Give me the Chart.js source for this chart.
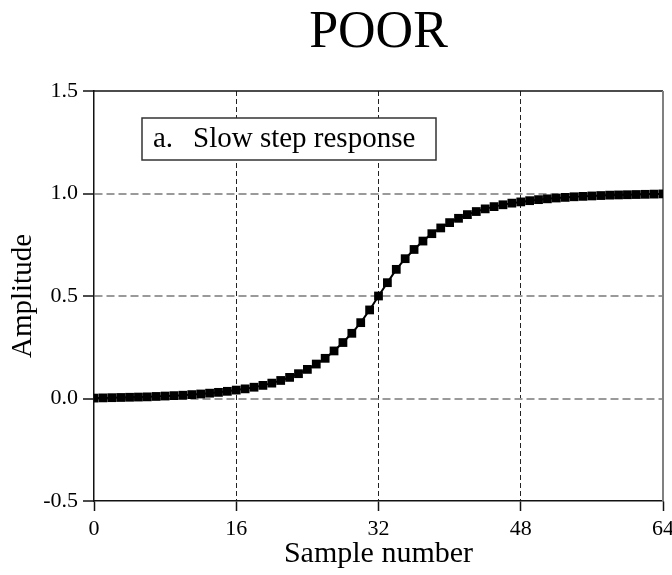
<!DOCTYPE html>
<html>
<head>
<meta charset="utf-8">
<title>POOR - Slow step response</title>
<script src="https://cdn.jsdelivr.net/npm/chart.js@4/dist/chart.umd.min.js"></script>
<style>
  html, body { margin: 0; padding: 0; background: #fff; }
  canvas { display: block; }
</style>
</head>
<body>
<canvas id="chart" width="672" height="575"></canvas>
<script>
// ---------- data ----------
const sampleNumbers = [
  0, 1, 2, 3, 4, 5, 6, 7, 8, 9, 10, 11, 12, 13, 14, 15,
  16, 17, 18, 19, 20, 21, 22, 23, 24, 25, 26, 27, 28, 29, 30, 31,
  32, 33, 34, 35, 36, 37, 38, 39, 40, 41, 42, 43, 44, 45, 46, 47,
  48, 49, 50, 51, 52, 53, 54, 55, 56, 57, 58, 59, 60, 61, 62, 63, 64,
];
const amplitude = [
  0.002, 0.003, 0.004, 0.005, 0.006, 0.007, 0.008, 0.010,
  0.012, 0.014, 0.016, 0.019, 0.022, 0.026, 0.030, 0.035,
  0.041, 0.047, 0.055, 0.064, 0.075, 0.088, 0.103, 0.121,
  0.142, 0.168, 0.196, 0.232, 0.273, 0.318, 0.370, 0.432,
  0.500, 0.565, 0.630, 0.682, 0.727, 0.768, 0.804, 0.832,
  0.858, 0.879, 0.897, 0.912, 0.925, 0.936, 0.945, 0.953,
  0.959, 0.965, 0.970, 0.974, 0.978, 0.981, 0.984, 0.986,
  0.988, 0.990, 0.992, 0.993, 0.994, 0.995, 0.996, 0.997, 0.998,
];
const xTicks = [0, 16, 32, 48, 64];
const yTicks = [-0.5, 0.0, 0.5, 1.0, 1.5];
const chartTitle = "POOR";
const boxLabel = "a.";
const boxText = "Slow step response";

const SERIF = "'Liberation Serif', 'Times New Roman', 'DejaVu Serif', serif";

// solid top / right edges of the plot frame + the "a. Slow step response" box
const framePlugin = {
  id: "frameAndBox",
  beforeDatasetsDraw(chart) {
    const { ctx, chartArea: a } = chart;
    ctx.save();
    ctx.strokeStyle = "#111";
    ctx.lineWidth = 1.5;
    ctx.beginPath();
    ctx.moveTo(a.left, a.top);
    ctx.lineTo(a.right, a.top);
    ctx.stroke();
    ctx.strokeStyle = "#808080";
    ctx.lineWidth = 2;
    ctx.beginPath();
    ctx.moveTo(a.right, a.top);
    ctx.lineTo(a.right, a.bottom);
    ctx.stroke();
    ctx.restore();
  },
  afterDraw(chart) {
    const { ctx, chartArea: a } = chart;
    const bx = a.left + 48, by = a.top + 27, bw = 294, bh = 42;
    ctx.save();
    ctx.fillStyle = "#fff";
    ctx.fillRect(bx, by, bw, bh);
    ctx.strokeStyle = "#333";
    ctx.lineWidth = 1.5;
    ctx.strokeRect(bx, by, bw, bh);
    ctx.fillStyle = "#000";
    ctx.font = "29px " + SERIF;
    ctx.textBaseline = "alphabetic";
    ctx.fillText(boxLabel, bx + 11, by + 29);
    ctx.fillText(boxText, bx + 51, by + 29);
    ctx.restore();
  },
};

new Chart(document.getElementById("chart"), {
  type: "line",
  data: {
    datasets: [
      {
        data: amplitude.map((y, i) => ({ x: sampleNumbers[i], y })),
        borderColor: "#000",
        backgroundColor: "#000",
        borderWidth: 2,
        pointStyle: "rect",
        pointRadius: 6.2,
        pointBorderWidth: 0,
        tension: 0,
      },
    ],
  },
  options: {
    responsive: false,
    animation: false,
    layout: { padding: { top: 0, right: 9, bottom: 0, left: 0 } },
    plugins: {
      legend: { display: false },
      tooltip: { enabled: false },
      title: {
        display: true,
        text: chartTitle,
        fullSize: false,
        color: "#000",
        font: { family: SERIF, size: 52, weight: "normal", lineHeight: 1 },
        padding: { top: 7, bottom: 32 },
      },
    },
    scales: {
      x: {
        type: "linear",
        min: 0,
        max: 64,
        afterBuildTicks: (scale) => { scale.ticks = xTicks.map((v) => ({ value: v })); },
        afterFit: (scale) => {
          scale.height = 74;
          scale.paddingLeft = 0;
          scale.paddingRight = 0;
        },
        ticks: {
          color: "#000",
          font: { family: SERIF, size: 22 },
          padding: 5,
          maxRotation: 0,
        },
        grid: {
          color: (c) => (c.tick && (c.tick.value === 0 || c.tick.value === 64) ? "rgba(0,0,0,0)" : "#222"),
          lineWidth: 1,
          tickLength: 10,
          tickColor: "#111",
          tickWidth: 1.5,
          tickBorderDash: [],
        },
        border: { display: true, color: "#111", width: 1.5, dash: [5, 3] },
        title: {
          display: true,
          text: "Sample number",
          color: "#000",
          font: { family: SERIF, size: 30 },
          padding: { top: 0, bottom: 3 },
        },
      },
      y: {
        min: -0.5,
        max: 1.5,
        afterBuildTicks: (scale) => { scale.ticks = yTicks.map((v) => ({ value: v })); },
        afterFit: (scale) => {
          scale.width = 94;
          scale.paddingTop = 0;
          scale.paddingBottom = 0;
        },
        ticks: {
          color: "#000",
          font: { family: SERIF, size: 22 },
          padding: 5,
          callback: (v) => Number(v).toFixed(1),
        },
        grid: {
          color: (c) => (c.tick && (c.tick.value === -0.5 || c.tick.value === 1.5) ? "rgba(0,0,0,0)" : "#9a9a9a"),
          lineWidth: 2,
          tickLength: 11,
          tickColor: "#111",
          tickWidth: 1.5,
          tickBorderDash: [],
        },
        border: { display: true, color: "#111", width: 1.5, dash: [8, 4] },
        title: {
          display: true,
          text: "Amplitude",
          color: "#000",
          font: { family: SERIF, size: 29 },
          padding: { top: 6, bottom: 0 },
        },
      },
    },
  },
  plugins: [framePlugin],
});
</script>
</body>
</html>
